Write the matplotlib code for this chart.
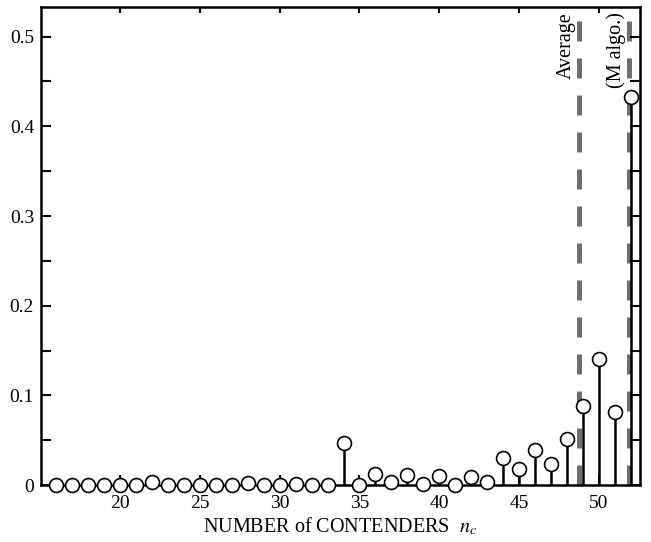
import matplotlib
matplotlib.use("Agg")
import matplotlib.pyplot as plt
from matplotlib.ticker import MultipleLocator, FixedLocator

plt.rcParams['font.family'] = ['Liberation Serif', 'DejaVu Serif']
plt.rcParams['mathtext.fontset'] = 'stix'

n_contenders = list(range(16, 53))
probability = [0.0, 0.0, 0.0, 0.0, 0.0, 0.0, 0.003, 0.0, 0.0, 0.0,
               0.0, 0.0, 0.002, 0.0, 0.0, 0.001, 0.0, 0.0, 0.047, 0.0,
               0.012, 0.003, 0.011, 0.001, 0.010, 0.0, 0.009, 0.003, 0.030, 0.018,
               0.039, 0.024, 0.051, 0.088, 0.141, 0.081, 0.433]
ref_positions = [48.78, 51.9]
ref_labels = ["Average", "(M algo.)"]
x_ticks = [20, 25, 30, 35, 40, 45, 50]
y_ticks = [0, 0.1, 0.2, 0.3, 0.4, 0.5]
y_ticklabels = ["0", "0.1", "0.2", "0.3", "0.4", "0.5"]

fig = plt.figure(figsize=(6.51, 5.42), dpi=100)
ax = fig.add_axes([0.063, 0.105, 0.92, 0.882])

for xp, lab in zip(ref_positions, ref_labels):
    ax.axvline(xp, color='#6e6e6e', lw=3.6, dashes=(4, 3.4), zorder=1)
    ax.text(xp - 0.2, 0.527, lab, rotation=90, ha='right', va='top',
            fontsize=14.5, zorder=2)

ax.vlines(n_contenders, 0, probability, color='black', lw=1.8, zorder=3)
ax.plot(n_contenders, probability, 'o', ms=10, mfc='white', mec='black',
        mew=1.2, zorder=4, clip_on=False)

ax.set_xlim(15.05, 52.57)
ax.set_ylim(0, 0.533)
ax.xaxis.set_major_locator(FixedLocator(x_ticks))
ax.set_yticks(y_ticks)
ax.set_yticklabels(y_ticklabels)
ax.yaxis.set_minor_locator(MultipleLocator(0.05))
ax.tick_params(axis='both', which='both', direction='in', length=7, width=1.5,
               labelsize=14, right=True)
ax.tick_params(axis='x', which='major', top=True, pad=7)
ax.tick_params(axis='y', which='major', pad=5)
ax.tick_params(axis='x', which='minor', top=False, bottom=False)
for t in ax.xaxis.get_major_ticks():
    t.tick2line.set_markersize(4)
for s in ax.spines.values():
    s.set_linewidth(1.8)

ax.set_xlabel(r"NUMBER of CONTENDERS  $n_c$", fontsize=14.5, labelpad=3)

fig.savefig("out.png", dpi=100)
